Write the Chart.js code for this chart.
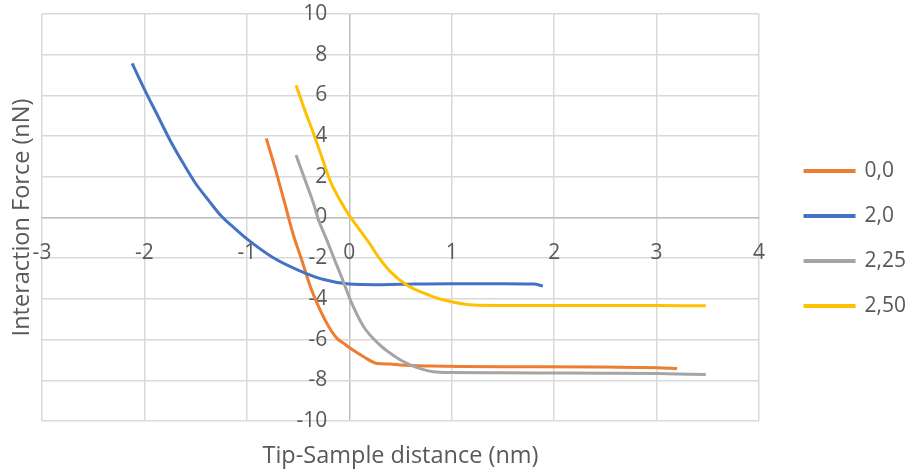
<!DOCTYPE html>
<html>
<head>
<meta charset="utf-8">
<title>Interaction Force vs Tip-Sample distance</title>
<script src="https://cdn.jsdelivr.net/npm/chart.js@4/dist/chart.umd.min.js"></script>
<style>
  html, body { margin: 0; padding: 0; background: #fff; }
  #wrap { width: 909px; height: 475px; }
</style>
</head>
<body>
<div id="wrap"><canvas id="forceChart" width="909" height="475"></canvas></div>
<script>
// series names
const seriesNames = ['0,0', '2,0', '2,25', '2,50'];
const seriesColors = ['#ED7D31', '#4472C4', '#A5A5A5', '#FFC000'];

// 0,0
const x00 = [-0.81, -0.72, -0.63, -0.55, -0.47, -0.38, -0.30, -0.20, -0.12, -0.05, 0.01, 0.14, 0.27, 0.40, 0.50, 0.80, 1.08, 1.50, 1.87, 2.50, 3.00, 3.20];
const y00 = [3.89, 2.35, 0.7, -0.8, -2.0, -3.4, -4.38, -5.37, -5.94, -6.2, -6.43, -6.84, -7.17, -7.2, -7.25, -7.3, -7.32, -7.33, -7.33, -7.35, -7.38, -7.42];

// 2,0
const x20 = [-2.12, -2.00, -1.87, -1.75, -1.62, -1.50, -1.37, -1.25, -1.12, -1.00, -0.75, -0.50, -0.25, 0.00, 0.25, 0.50, 1.00, 1.50, 1.80, 1.89];
const y20 = [7.57, 6.3, 5.0, 3.8, 2.65, 1.67, 0.82, 0.07, -0.53, -1.05, -1.95, -2.58, -3.05, -3.27, -3.3, -3.28, -3.25, -3.25, -3.27, -3.37];

// 2,25
const x225 = [-0.52, -0.44, -0.35, -0.30, -0.22, -0.15, -0.07, 0.01, 0.14, 0.30, 0.40, 0.50, 0.60, 0.71, 0.82, 1.00, 1.50, 2.00, 2.50, 3.00, 3.48];
const y225 = [3.07, 1.95, 0.7, -0.12, -1.1, -2.0, -3.0, -4.05, -5.37, -6.27, -6.67, -7.0, -7.25, -7.45, -7.58, -7.62, -7.63, -7.64, -7.65, -7.67, -7.72];

// 2,50
const x250 = [-0.52, -0.44, -0.35, -0.27, -0.19, -0.09, 0.00, 0.09, 0.20, 0.30, 0.40, 0.56, 0.73, 0.86, 1.00, 1.21, 1.50, 2.00, 2.50, 3.00, 3.48];
const y250 = [6.5, 5.35, 4.14, 3.0, 1.84, 0.85, 0.1, -0.53, -1.3, -2.05, -2.66, -3.32, -3.72, -3.97, -4.14, -4.3, -4.32, -4.33, -4.32, -4.33, -4.34];

const xTicks = [-3, -2, -1, 0, 1, 2, 3, 4];
const yTicks = [-10, -8, -6, -4, -2, 0, 2, 4, 6, 8, 10];

const xTitleText = 'Tip-Sample distance (nm)';
const yTitleText = 'Interaction Force (nN)';

const xs = [x00, x20, x225, x250];
const ys = [y00, y20, y225, y250];

const textColor = '#595959';
const gridColor = '#D9D9D9';
const axisColor = '#BFBFBF';
const fontFamily = '"Open Sans", "Noto Sans", sans-serif';

// y labels sit a little left of the x=0 line
const yLabelX = -0.215;

const datasets = seriesNames.map((name, i) => ({
  label: name,
  data: xs[i].map((x, j) => ({ x: x, y: ys[i][j] })),
  borderColor: seriesColors[i],
  backgroundColor: seriesColors[i],
  borderWidth: 3,
  pointRadius: 0,
  showLine: true,
  cubicInterpolationMode: 'monotone',
  // later series sit on top
  order: seriesNames.length - i
}));

// positioned axes shouldn't push the plot area around
const noPad = s => { s.paddingTop = 0; s.paddingBottom = 0; s.paddingLeft = 0; s.paddingRight = 0; };

// vertical title in the left margin
const yTitlePlugin = {
  id: 'yTitle',
  afterDraw(chart) {
    const { ctx, chartArea } = chart;
    ctx.save();
    ctx.translate(22, (chartArea.top + chartArea.bottom) / 2);
    ctx.rotate(-Math.PI / 2);
    ctx.font = '23.5px ' + fontFamily;
    ctx.fillStyle = textColor;
    ctx.textAlign = 'center';
    ctx.textBaseline = 'middle';
    ctx.fillText(yTitleText, 0, 0);
    ctx.restore();
  }
};

new Chart(document.getElementById('forceChart'), {
  type: 'scatter',
  data: { datasets: datasets },
  plugins: [yTitlePlugin],
  options: {
    responsive: false,
    animation: false,
    layout: { padding: { left: 42, top: 14, right: -7, bottom: 12 } },
    plugins: {
      tooltip: { enabled: false },
      legend: {
        position: 'right',
        labels: {
          boxWidth: 49,
          boxHeight: 1,
          padding: 24,
          color: textColor,
          font: { family: fontFamily, size: 21 },
          sort: (a, b) => a.datasetIndex - b.datasetIndex
        }
      }
    },
    scales: {
      x: {
        type: 'linear',
        position: { y: 0 },
        min: -3,
        max: 4,
        afterBuildTicks: s => { s.ticks = xTicks.map(v => ({ value: v })); },
        afterFit: noPad,
        ticks: {
          color: textColor,
          padding: 23,
          font: { family: fontFamily, size: 21 },
          callback: v => String(v)
        },
        grid: {
          color: c => (c.tick && c.tick.value === 0 ? axisColor : gridColor),
          lineWidth: 1.5,
          drawTicks: false
        },
        border: { color: axisColor, width: 1.5 }
      },
      y: {
        type: 'linear',
        position: { x: yLabelX },
        min: -10,
        max: 10,
        afterBuildTicks: s => { s.ticks = yTicks.map(v => ({ value: v })); },
        afterFit: noPad,
        ticks: {
          color: textColor,
          padding: 0,
          font: { family: fontFamily, size: 21 },
          callback: v => String(v)
        },
        grid: { color: gridColor, lineWidth: 1.5, drawTicks: false },
        border: { display: false }
      },
      // bottom box carrying the x title
      xTitle: {
        type: 'linear',
        axis: 'x',
        position: 'bottom',
        min: -3,
        max: 4,
        ticks: { display: false },
        grid: { display: false },
        border: { display: false },
        title: {
          display: true,
          text: xTitleText,
          color: textColor,
          font: { family: fontFamily, size: 23.5 },
          padding: { top: 0, bottom: -7 }
        },
        afterFit: s => { noPad(s); s.height = 42; }
      },
      // spacer between plot and legend
      yGap: {
        type: 'linear',
        axis: 'y',
        position: 'right',
        ticks: { display: false },
        grid: { display: false },
        border: { display: false },
        afterFit: s => { noPad(s); s.width = 22; }
      }
    }
  }
});
</script>
</body>
</html>
